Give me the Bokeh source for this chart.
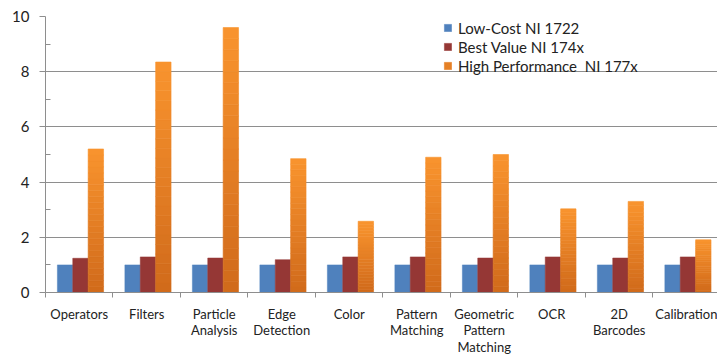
from bokeh.plotting import figure
from bokeh.models import (Range1d, FixedTicker, ColumnDataSource, Legend, LegendItem)
from bokeh.embed import file_html
from bokeh.resources import INLINE

categories = ["Operators", "Filters", "Particle\nAnalysis", "Edge\nDetection", "Color",
              "Pattern\nMatching", "Geometric\nPattern\nMatching", "OCR", "2D\nBarcodes",
              "Calibration"]
low_cost = [1, 1, 1, 1, 1, 1, 1, 1, 1, 1]
best_value = [1.24, 1.29, 1.25, 1.19, 1.29, 1.29, 1.25, 1.29, 1.25, 1.29]
high_perf = [5.2, 8.35, 9.6, 4.85, 2.58, 4.9, 5.0, 3.03, 3.3, 1.91]
series_names = ["Low-Cost NI 1722", "Best Value NI 174x", "High Performance  NI 177x"]
y_ticks = [0, 2, 4, 6, 8, 10]

FONT = "Lato"
n = len(categories)
bw = 0.228
offs = [-0.21, 0.018, 0.246]

p = figure(width=717, height=358, output_backend="svg", toolbar_location=None,
           x_range=Range1d(0, 9.956), y_range=Range1d(0, 10),
           min_border_left=45, min_border_right=0, min_border_top=16, min_border_bottom=65)
p.outline_line_color = None
p.background_fill_color = "white"
p.border_fill_color = "white"

centers = [i + 0.5 for i in range(n)]
src_low = ColumnDataSource(dict(x=[c + offs[0] for c in centers], top=low_cost))
src_best = ColumnDataSource(dict(x=[c + offs[1] for c in centers], top=best_value))
r_low = p.vbar(x="x", top="top", bottom=0, width=bw, source=src_low,
               fill_color="#4F81BD", line_color="#4F81BD", line_width=0.5)
r_best = p.vbar(x="x", top="top", bottom=0, width=bw, source=src_best,
                fill_color="#953735", line_color="#953735", line_width=0.5)

# gradient for orange bars (light top, dark bottom)
def lerp(c1, c2, t):
    a = [int(c1[i:i + 2], 16) for i in (1, 3, 5)]
    b = [int(c2[i:i + 2], 16) for i in (1, 3, 5)]
    return "#%02x%02x%02x" % tuple(round(a[k] + (b[k] - a[k]) * t) for k in range(3))

N = 24
gx, gb, gt, gc = [], [], [], []
for i, v in enumerate(high_perf):
    for k in range(N):
        gx.append(centers[i] + offs[2])
        gb.append(v * k / N)
        gt.append(v * (k + 1) / N)
        gc.append(lerp("#D06A1B", "#F9942E", (k + 0.5) / N))
src_hi = ColumnDataSource(dict(x=gx, bottom=gb, top=gt, color=gc))
r_hi = p.vbar(x="x", top="top", bottom="bottom", width=bw, source=src_hi,
              fill_color="color", line_color="color", line_width=0.6)

# grid
p.xgrid.visible = False
p.ygrid.ticker = FixedTicker(ticks=y_ticks)
p.ygrid.grid_line_color = "#8E8E8E"
p.ygrid.grid_line_width = 1

# y axis
ya = p.yaxis[0]
ya.ticker = FixedTicker(ticks=y_ticks, minor_ticks=[1, 3, 5, 7, 9])
ya.axis_line_color = "#8E8E8E"
ya.major_tick_line_color = "#8E8E8E"
ya.minor_tick_line_color = "#8E8E8E"
ya.major_tick_out = 6
ya.major_tick_in = 0
ya.minor_tick_in = 5
ya.minor_tick_out = 0
ya.major_label_standoff = 10
ya.major_label_text_font = FONT
ya.major_label_text_font_size = "15px"
ya.major_label_text_color = "#222222"

# x axis
xa = p.xaxis[0]
xa.ticker = FixedTicker(ticks=centers, minor_ticks=list(range(0, n + 1)))
xa.major_label_overrides = {c: lab for c, lab in zip(centers, categories)}
xa.axis_line_color = "#8E8E8E"
xa.major_tick_line_color = None
xa.minor_tick_line_color = "#8E8E8E"
xa.minor_tick_out = 5
xa.minor_tick_in = 0
xa.major_tick_out = 5
xa.major_tick_in = 0
xa.major_label_standoff = 8
xa.major_label_text_font = FONT
xa.major_label_text_font_size = "13px"
xa.major_label_text_color = "#222222"
xa.major_label_text_line_height = 1.06

legend = Legend(items=[LegendItem(label=series_names[0], renderers=[r_low]),
                       LegendItem(label=series_names[1], renderers=[r_best]),
                       LegendItem(label=series_names[2], renderers=[r_hi], index=N // 2)],
                location=(398, 217), orientation="vertical")
legend.background_fill_alpha = 0
legend.border_line_color = None
legend.padding = 0
legend.margin = 0
legend.spacing = 0
legend.label_height = 19
legend.glyph_height = 9
legend.glyph_width = 9
legend.label_standoff = 6
legend.label_text_font = FONT
legend.label_text_font_size = "15px"
legend.label_text_color = "#222222"
p.add_layout(legend)

open("out.html", "w").write(file_html(p, INLINE))
